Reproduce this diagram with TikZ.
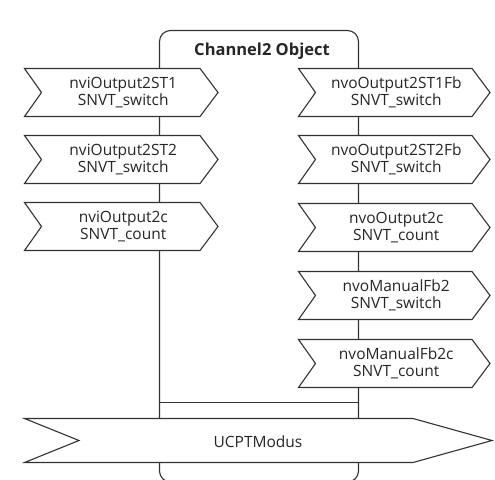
\documentclass[tikz,border=0pt]{standalone}
\usepackage{fontspec}
\setmainfont{Open Sans}
\usetikzlibrary{positioning}
\tikzset{
  dpline/.style={line width=1.1pt, draw=black!80},
  dplabel/.style={align=center, font=\fontsize{15.5}{16.5}\selectfont, text=black!85, inner sep=0pt},
}
% chevron: name, left, top, right, text
\newcommand{\dpchevron}[5]{%
  \draw[dpline, fill=white] (#2,#3) -- (#4-18,#3) -- (#4,#3+24) -- (#4-18,#3+48) -- (#2,#3+48) -- (#2+17,#3+24) -- cycle;
  \node[dplabel] (#1) at ({(#2+#4)/2+2},#3+24) {#5};
}

\begin{document}
\begin{tikzpicture}[x=1pt,y=-1pt]
\useasboundingbox (0,0) rectangle (495,479);
\clip (0,0) rectangle (495,479);
% object box
\draw[dpline, rounded corners=11pt] (159.5,30.5) rectangle (358.5,482);
\node[dplabel, font=\bfseries\fontsize{16.5}{18}\selectfont, anchor=base] (title) at (262,55) {Channel2 Object};
% inputs
\dpchevron{in1}{24.5}{68.5}{218}{nviOutput2ST1\\SNVT\_switch}
\dpchevron{in2}{24.5}{135.5}{218}{nviOutput2ST2\\SNVT\_switch}
\dpchevron{in3}{24.5}{202.5}{218}{nviOutput2c\\SNVT\_count}
% outputs
\dpchevron{out1}{298.5}{68.5}{490}{nvoOutput2ST1Fb\\SNVT\_switch}
\dpchevron{out2}{298.5}{135.5}{490}{nvoOutput2ST2Fb\\SNVT\_switch}
\dpchevron{out3}{298.5}{203.5}{490}{nvoOutput2c\\SNVT\_count}
\dpchevron{out4}{298.5}{271.5}{490}{nvoManualFb2\\SNVT\_switch}
\dpchevron{out5}{298.5}{339.5}{490}{nvoManualFb2c\\SNVT\_count}
% bus
\coordinate (busL) at (159.5,402.5);
\coordinate (busR) at (358.5,402.5);
\draw[dpline] (busL) -- (busR);
\draw[dpline, fill=white] (24.5,418.5) -- (413,418.5) -- (492,440.5) -- (413,462.5) -- (24.5,462.5) -- (79,440.5) -- cycle;
\node[dplabel, anchor=base] (modus) at (258,447) {UCPTModus};

\end{tikzpicture}
\end{document}
